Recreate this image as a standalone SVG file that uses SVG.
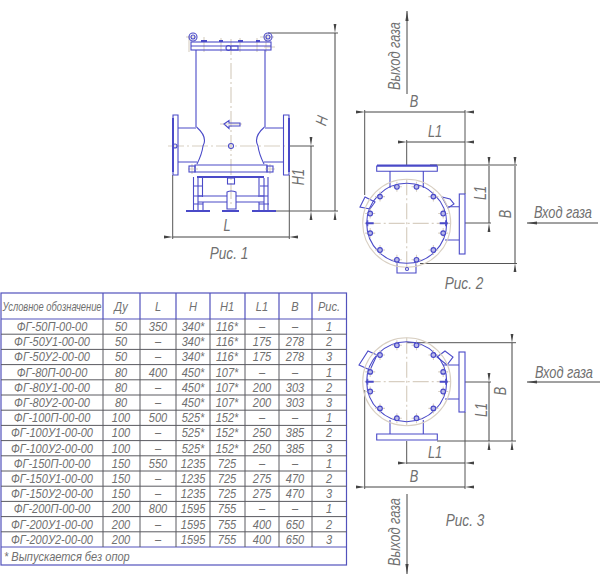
<svg xmlns="http://www.w3.org/2000/svg" xmlns:xlink="http://www.w3.org/1999/xlink" width="600" height="574" viewBox="0 0 600 574">
<style>
.b{fill:none;stroke:#4a4ac8;stroke-width:1.1}
.bt{fill:none;stroke:#4a4ac8;stroke-width:2}
.c{fill:none;stroke:#d8cfc2;stroke-width:1.1}
.cd{fill:none;stroke:#d8cfc2;stroke-width:1.2;stroke-dasharray:16 3 2 3}
.d{fill:none;stroke:#555;stroke-width:1}
.dm{fill:none;stroke:#444;stroke-width:1;marker-start:url(#a);marker-end:url(#a)}
.de{fill:none;stroke:#444;stroke-width:1;marker-end:url(#e)}
.g{fill:none;stroke:#5a5a60;stroke-width:1}
.gb{fill:none;stroke:#5252bc;stroke-width:1.2}
text{font-family:"Liberation Sans",Arial,sans-serif;font-style:italic;fill:#707070;text-anchor:middle}
.t{font-size:13px}
.l{font-size:16px}
.m{font-size:17px}
</style>
<defs>
<marker id="a" viewBox="0 0 9 4" refX="0" refY="2" markerWidth="9" markerHeight="4" markerUnits="userSpaceOnUse" orient="auto-start-reverse"><path d="M0 2L9 0.6V3.4Z" fill="#444"/></marker>
<marker id="e" viewBox="0 0 10 4" refX="10" refY="2" markerWidth="10" markerHeight="4" markerUnits="userSpaceOnUse" orient="auto"><path d="M10 2L0 0.4V3.6Z" fill="#444"/></marker>
<g id="bolt"><path class="c" d="M-5 0H5M0-5V5"/><circle r="2.300" fill="#b9b9ea" stroke="#4a4ac8" stroke-width="1.200"/></g>
<g id="ring">
<circle class="c" r="44" stroke-width="1.500"/>
<path class="cd" d="M-42 0H44M0-44V46"/>
<circle class="b" r="40"/>
<use xlink:href="#bolt" x="9.800" y="-36.500"/><use xlink:href="#bolt" x="26.700" y="-26.700"/><use xlink:href="#bolt" x="36.500" y="-9.800"/>
<use xlink:href="#bolt" x="36.500" y="9.800"/><use xlink:href="#bolt" x="26.700" y="26.700"/><use xlink:href="#bolt" x="9.800" y="36.500"/>
<use xlink:href="#bolt" x="-9.800" y="36.500"/><use xlink:href="#bolt" x="-26.700" y="26.700"/><use xlink:href="#bolt" x="-36.500" y="9.800"/>
<use xlink:href="#bolt" x="-36.500" y="-9.800"/><use xlink:href="#bolt" x="-26.700" y="-26.700"/><use xlink:href="#bolt" x="-9.800" y="-36.500"/>
<path class="bt" d="M-41 0H-33M33 0H41"/><path class="b" d="M-39-3V3M39-3V3"/>
</g>
</defs>
<rect width="600" height="574" fill="#fff"/>

<g id="connectors">
<path class="d" d="M268 33H338M276 211H338M289 146H314M172.700 175V239M289.300 175V239"/>
<path class="dm" d="M335 33V211"/>
<path class="dm" d="M311 146V211"/>
<path class="dm" d="M173 237H289"/>
<path class="d" d="M364.700 110V195M465 110V194M406.700 140V166M430 165H517M465 223H491M420 263.500H517"/>
<path class="dm" d="M365 112H465"/>
<path class="dm" d="M407 142H465"/>
<path class="dm" d="M489 166V223"/>
<path class="dm" d="M515 166V263"/>
<path class="de" d="M598 223H527"/>
<path class="de" d="M407 94V11"/>
<path class="d" d="M406 342.700H516M437 441H516M465 382H491M406.700 441V464M465 412V489M364.700 390V489"/>
<path class="dm" d="M512 343V441"/>
<path class="dm" d="M489 382V441"/>
<path class="dm" d="M407 463H465"/>
<path class="dm" d="M365 487H465"/>
<path class="de" d="M600 382H527"/>
<path class="de" d="M407 494V574"/>
</g>

<g id="fig1">
<path class="cd" d="M231 39V207M168 146H289"/>
<path class="c" d="M189 36V52M266 33V52M204 37V52M221 38V52M240 38V52M257 38V52M186 37H196M260 37H274M264 47H275M220 124H242"/>
<rect class="b" x="191" y="42" width="80" height="8"/><path class="b" d="M191 46H271"/>
<circle class="b" cx="193" cy="37" r="4"/><circle class="b" cx="193" cy="37" r="2"/>
<circle class="b" cx="268" cy="37" r="4"/><circle class="b" cx="268" cy="37" r="2"/>
<path class="bt" d="M201 41H207M219 41H223M238 41H243M256 41H260"/>
<path class="b" d="M226 48a2.500 2.500 0 1 0 5 0a2.500 2.500 0 1 0-5 0M231 46H238V50H231"/>
<path class="b" d="M196 50V127M265 50V127"/>
<path class="b" d="M173 115H178V175H173ZM283.500 115H289V175H283.500ZM178 128H196M283.500 128H265M178 162H197M283.500 162H264"/>
<path class="bt" d="M173 118V172M289 118V172"/>
<path class="b" d="M196.500 127Q208 137 203 146Q202 154 197 164M264.500 127Q253 137 258 146Q259 154 264 164"/>
<path class="b" d="M224 124L229 120.500V123H240V126H229V128.500Z"/>
<circle class="b" cx="231" cy="146" r="2.500" fill="#c9c9ee"/><circle class="b" cx="175" cy="146" r="2"/>
<path class="b" d="M195 165H267V172H195ZM199 172H264"/>
<path class="c" d="M188 169H198M192 164V174M265 169H275M270 164V174"/>
<rect class="b" x="189" y="166" width="6" height="6"/><rect class="b" x="267" y="166" width="6" height="6"/>
<path class="bt" d="M197 177H264"/>
<path class="b" d="M193.500 177V210M198 178V210M202.500 178V197M203 202V210M259 178V197M259 202V210M264 178V210M268 177V210M194 186H202M194 196H202M193 204H203M260 186H268M260 196H268M259 204H269"/>
<path class="b" d="M198 196H227M198 202H227M236 196H264M236 202H264M227 192Q231 190 236 192V209H227Z"/>
<rect class="b" x="227.500" y="178" width="7" height="6"/>
<path class="bt" d="M186 211H210M222 211H239M252 211H276"/>
<text class="l" transform="translate(227 231) scale(.8 1)">L</text>
<text class="l" transform="translate(327 122) rotate(-75) scale(.8 1)">H</text>
<text class="l" transform="translate(304 177) rotate(-90) scale(.8 1)">H1</text>
<text class="m" transform="translate(229 259) scale(.8 1)">Рис. 1</text>
</g>

<g id="fig2">
<path class="b" d="M390 171V188M423.300 171V188M448 206.700H459M445 240H459M376.700 166H437.300V171.300H376.700Z"/>
<rect class="b" x="459.300" y="194" width="5.700" height="60" fill="#fff"/>
<path class="bt" d="M377 165.500H437"/>
<path class="b" d="M397 262V273H416V262M360 207L365 197L375 202L370 209ZM442 197L450 199L454 204L448 208Z"/>
<use xlink:href="#ring" x="406.700" y="223.300"/>
<circle class="b" cx="407" cy="269" r="1.500"/>
<text class="l" transform="translate(414 107) scale(.8 1)">В</text>
<text class="l" transform="translate(435 137) scale(.8 1)">L1</text>
<text class="l" transform="translate(486 193) rotate(-90) scale(.8 1)">L1</text>
<text class="l" transform="translate(511 214) rotate(-90) scale(.8 1)">В</text>
<text class="l" transform="translate(563 218) scale(.8 1)">Вход газа</text>
<text class="l" transform="translate(400 56) rotate(-90) scale(.8 1)">Выход газа</text>
<text class="m" transform="translate(464 289) scale(.8 1)">Рис. 2</text>
</g>

<g id="fig3">
<path class="b" d="M390 420V434M423.300 420V434M443 365H459M445 399H459M376.700 434H437.300V440H376.700Z"/>
<rect class="b" x="459" y="352" width="6" height="60" fill="#fff"/>
<path class="b" d="M359 365L368 351L377 355L370 370ZM437 357L445 351L453 357L447 365Z"/>
<use xlink:href="#ring" x="406.700" y="381.700"/>
<text class="l" transform="translate(435 458) scale(.8 1)">L1</text>
<text class="l" transform="translate(414 482) scale(.8 1)">В</text>
<text class="l" transform="translate(487 410) rotate(-90) scale(.8 1)">L1</text>
<text class="l" transform="translate(506 391) rotate(-90) scale(.8 1)">В</text>
<text class="l" transform="translate(564 378) scale(.8 1)">Вход газа</text>
<text class="l" transform="translate(400 532) rotate(-90) scale(.8 1)">Выход газа</text>
<text class="m" transform="translate(465 526) scale(.8 1)">Рис. 3</text>
</g>

<g id="table">
<rect class="gb" x="1" y="293" width="345.500" height="272"/>
<path class="gb" d="M1 319H346.500M1 547H346.500M103 293V319M140 293V319M176 293V319M210 293V319M245 293V319M279 293V319M312 293V319"/>
<path class="g" d="M103 319V547M140 319V547M176 319V547M210 319V547M245 319V547M279 319V547M312 319V547"/>
<path class="g" d="M1 334.200H346.500M1 349.400H346.500M1 364.600H346.500M1 379.800H346.500M1 395H346.500M1 410.200H346.500M1 425.400H346.500M1 440.600H346.500M1 455.800H346.500M1 471H346.500M1 486.200H346.500M1 501.400H346.500M1 516.600H346.500M1 531.800H346.500"/>
<text class="t" transform="translate(52 311) scale(.72 1)">Условное обозначение</text>
<g class="t" transform="scale(.85 1)">
<text x="142.400" y="311">Ду</text><text x="185.900" y="311">L</text><text x="227.100" y="311">H</text><text x="267.100" y="311">H1</text><text x="308.200" y="311">L1</text><text x="347.100" y="311">B</text><text x="387.100" y="311">Рис.</text>
<text x="61.200" y="331">ФГ-50П-00-00</text><text x="142.400" y="331">50</text><text x="185.900" y="331">350</text><text x="227.100" y="331">340*</text><text x="267.100" y="331">116*</text><text x="308.200" y="331">–</text><text x="347.100" y="331">–</text><text x="387.100" y="331">1</text>
<text x="61.200" y="346.200">ФГ-50У1-00-00</text><text x="142.400" y="346.200">50</text><text x="185.900" y="346.200">–</text><text x="227.100" y="346.200">340*</text><text x="267.100" y="346.200">116*</text><text x="308.200" y="346.200">175</text><text x="347.100" y="346.200">278</text><text x="387.100" y="346.200">2</text>
<text x="61.200" y="361.400">ФГ-50У2-00-00</text><text x="142.400" y="361.400">50</text><text x="185.900" y="361.400">–</text><text x="227.100" y="361.400">340*</text><text x="267.100" y="361.400">116*</text><text x="308.200" y="361.400">175</text><text x="347.100" y="361.400">278</text><text x="387.100" y="361.400">3</text>
<text x="61.200" y="376.600">ФГ-80П-00-00</text><text x="142.400" y="376.600">80</text><text x="185.900" y="376.600">400</text><text x="227.100" y="376.600">450*</text><text x="267.100" y="376.600">107*</text><text x="308.200" y="376.600">–</text><text x="347.100" y="376.600">–</text><text x="387.100" y="376.600">1</text>
<text x="61.200" y="391.800">ФГ-80У1-00-00</text><text x="142.400" y="391.800">80</text><text x="185.900" y="391.800">–</text><text x="227.100" y="391.800">450*</text><text x="267.100" y="391.800">107*</text><text x="308.200" y="391.800">200</text><text x="347.100" y="391.800">303</text><text x="387.100" y="391.800">2</text>
<text x="61.200" y="407">ФГ-80У2-00-00</text><text x="142.400" y="407">80</text><text x="185.900" y="407">–</text><text x="227.100" y="407">450*</text><text x="267.100" y="407">107*</text><text x="308.200" y="407">200</text><text x="347.100" y="407">303</text><text x="387.100" y="407">3</text>
<text x="61.200" y="422.200">ФГ-100П-00-00</text><text x="142.400" y="422.200">100</text><text x="185.900" y="422.200">500</text><text x="227.100" y="422.200">525*</text><text x="267.100" y="422.200">152*</text><text x="308.200" y="422.200">–</text><text x="347.100" y="422.200">–</text><text x="387.100" y="422.200">1</text>
<text x="61.200" y="437.400">ФГ-100У1-00-00</text><text x="142.400" y="437.400">100</text><text x="185.900" y="437.400">–</text><text x="227.100" y="437.400">525*</text><text x="267.100" y="437.400">152*</text><text x="308.200" y="437.400">250</text><text x="347.100" y="437.400">385</text><text x="387.100" y="437.400">2</text>
<text x="61.200" y="452.600">ФГ-100У2-00-00</text><text x="142.400" y="452.600">100</text><text x="185.900" y="452.600">–</text><text x="227.100" y="452.600">525*</text><text x="267.100" y="452.600">152*</text><text x="308.200" y="452.600">250</text><text x="347.100" y="452.600">385</text><text x="387.100" y="452.600">3</text>
<text x="61.200" y="467.800">ФГ-150П-00-00</text><text x="142.400" y="467.800">150</text><text x="185.900" y="467.800">550</text><text x="227.100" y="467.800">1235</text><text x="267.100" y="467.800">725</text><text x="308.200" y="467.800">–</text><text x="347.100" y="467.800">–</text><text x="387.100" y="467.800">1</text>
<text x="61.200" y="483">ФГ-150У1-00-00</text><text x="142.400" y="483">150</text><text x="185.900" y="483">–</text><text x="227.100" y="483">1235</text><text x="267.100" y="483">725</text><text x="308.200" y="483">275</text><text x="347.100" y="483">470</text><text x="387.100" y="483">2</text>
<text x="61.200" y="498.200">ФГ-150У2-00-00</text><text x="142.400" y="498.200">150</text><text x="185.900" y="498.200">–</text><text x="227.100" y="498.200">1235</text><text x="267.100" y="498.200">725</text><text x="308.200" y="498.200">275</text><text x="347.100" y="498.200">470</text><text x="387.100" y="498.200">3</text>
<text x="61.200" y="513.400">ФГ-200П-00-00</text><text x="142.400" y="513.400">200</text><text x="185.900" y="513.400">800</text><text x="227.100" y="513.400">1595</text><text x="267.100" y="513.400">755</text><text x="308.200" y="513.400">–</text><text x="347.100" y="513.400">–</text><text x="387.100" y="513.400">1</text>
<text x="61.200" y="528.600">ФГ-200У1-00-00</text><text x="142.400" y="528.600">200</text><text x="185.900" y="528.600">–</text><text x="227.100" y="528.600">1595</text><text x="267.100" y="528.600">755</text><text x="308.200" y="528.600">400</text><text x="347.100" y="528.600">650</text><text x="387.100" y="528.600">2</text>
<text x="61.200" y="543.800">ФГ-200У2-00-00</text><text x="142.400" y="543.800">200</text><text x="185.900" y="543.800">–</text><text x="227.100" y="543.800">1595</text><text x="267.100" y="543.800">755</text><text x="308.200" y="543.800">400</text><text x="347.100" y="543.800">650</text><text x="387.100" y="543.800">3</text>
<text x="4.700" y="561" style="text-anchor:start">* Выпускается без опор</text>
</g>
</g>
</svg>
